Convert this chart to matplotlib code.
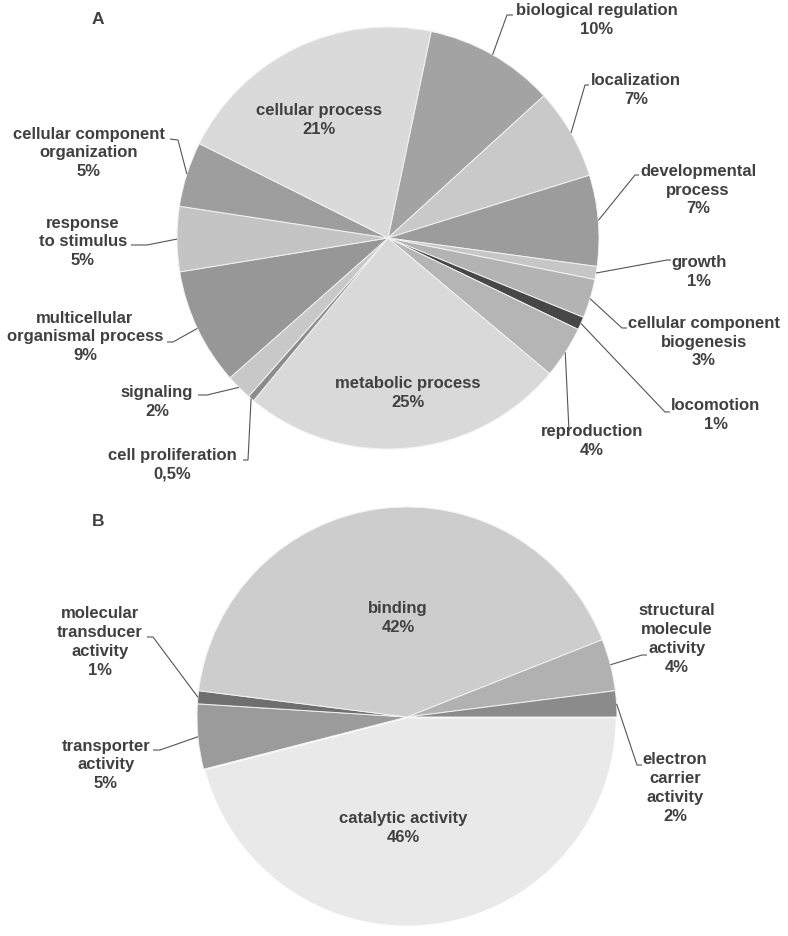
import numpy as np
import matplotlib
matplotlib.use("Agg")
import matplotlib.pyplot as plt

W, H = 788, 936

# ---------------- data ----------------
a_labels = ["biological regulation", "localization", "developmental\nprocess", "growth",
            "cellular component\nbiogenesis", "locomotion", "reproduction", "metabolic process",
            "cell proliferation", "signaling", "multicellular\norganismal process",
            "response\nto stimulus", "cellular component\norganization", "cellular process"]
a_values = [10, 7, 7, 1, 3, 1, 4, 25, 0.5, 2, 9, 5, 5, 21]
a_pct = ["10%", "7%", "7%", "1%", "3%", "1%", "4%", "25%", "0,5%", "2%", "9%", "5%", "5%", "21%"]
a_colors = ["#a3a3a3", "#c9c9c9", "#9c9c9c", "#c6c6c6", "#b3b3b3", "#474747", "#b5b5b5",
            "#d9d9d9", "#8c8c8c", "#c8c8c8", "#979797", "#c4c4c4", "#9e9e9e", "#dadada"]

b_labels = ["catalytic activity", "transporter\nactivity", "molecular\ntransducer\nactivity",
            "binding", "structural\nmolecule\nactivity", "electron\ncarrier\nactivity"]
b_values = [46, 5, 1, 42, 4, 2]
b_pct = ["46%", "5%", "1%", "42%", "4%", "2%"]
b_colors = ["#e9e9e9", "#9b9b9b", "#6f6f6f", "#cdcdcd", "#b1b1b1", "#8b8b8b"]

# ---------------- layout (image pixel coords, y down) ----------------
A_center, A_radius, A_start = (388, 238), 211, 90 - 11.8
B_center, B_radius, B_start = (407, 717), 210, 0.0

# label centre, inside flag, leader (elbow, hook end)
A_layout = [
    ((597, 20), False, [(507, 15), (513, 15)]),
    ((636, 90), False, [(585, 85), (589, 85)]),
    ((698, 190), False, [(635, 175), (639, 175)]),
    ((699, 272), False, [(667, 260), (671, 260)]),
    ((704, 342), False, [(622, 328), (627, 328)]),
    ((716, 415), False, [(665, 412), (670, 412)]),
    ((592, 441), False, [(569, 431), (569, 431)]),
    ((408, 393), True, None),
    ((172, 465), False, [(248, 460), (243, 460)]),
    ((157, 402), False, [(207, 395), (198, 395)]),
    ((85, 337), False, [(173, 342), (167, 342)]),
    ((83, 242), False, [(147, 245), (131, 245)]),
    ((89, 153), False, [(178, 140), (170, 139)]),
    ((319, 120), True, None),
]
B_layout = [
    ((403, 828), True, None),
    ((106, 765), False, [(160, 750), (153, 750)]),
    ((100, 642), False, [(153, 637), (147, 637)]),
    ((398, 618), True, None),
    ((677, 639), False, [(642, 655), (647, 655)]),
    ((675, 788), False, [(637, 765), (642, 765)]),
]

TXT = "#404040"
FONT = dict(family=["Liberation Sans", "DejaVu Sans"], fontweight="bold", fontsize=12)

fig = plt.figure(figsize=(W / 100, H / 100), dpi=100)
ax = fig.add_axes([0, 0, 1, 1])
ax.set_xlim(0, W)
ax.set_ylim(0, H)
ax.set_aspect("equal")
ax.axis("off")


def Y(y):
    return H - y


def draw_pie(values, colors, labels, pcts, center, radius, start, layout, explode):
    wedges, _ = ax.pie(values, colors=colors, center=(center[0], Y(center[1])), radius=radius,
                       startangle=start, counterclock=False, explode=explode,
                       wedgeprops=dict(edgecolor="#f2f2f2", linewidth=0.7), frame=True)
    for w, lab, pct, (pos, inside, leader) in zip(wedges, labels, pcts, layout):
        ax.text(pos[0], Y(pos[1]), lab + "\n" + pct, ha="center", va="center",
                color=TXT, linespacing=1.32, **FONT)
        if leader is not None:
            mid = np.deg2rad((w.theta1 + w.theta2) / 2)
            cx, cy = w.center
            px = cx + w.r * np.cos(mid)
            py = cy + w.r * np.sin(mid)
            xs = [px] + [p[0] for p in leader]
            ys = [py] + [Y(p[1]) for p in leader]
            ax.plot(xs, ys, color="#555555", lw=0.8, solid_capstyle="butt")
    return wedges


a_explode = [0] * len(a_values)
a_explode[7] = 0.012
draw_pie(a_values, a_colors, a_labels, a_pct, A_center, A_radius, A_start, A_layout, a_explode)

b_explode = [0] * len(b_values)
b_explode[0] = 0.015
bw = draw_pie(b_values, b_colors, b_labels, b_pct, B_center, B_radius, B_start, B_layout, b_explode)
bw[0].set_edgecolor("white")
bw[0].set_linewidth(2.0)

ax.set_xlim(0, W)
ax.set_ylim(0, H)
ax.axis("off")

ax.text(98, Y(19), "A", ha="center", va="center", color=TXT, **{**FONT, "fontsize": 12.5})
ax.text(98, Y(521), "B", ha="center", va="center", color=TXT, **{**FONT, "fontsize": 12.5})

fig.savefig("out.png", dpi=100, facecolor="white")
